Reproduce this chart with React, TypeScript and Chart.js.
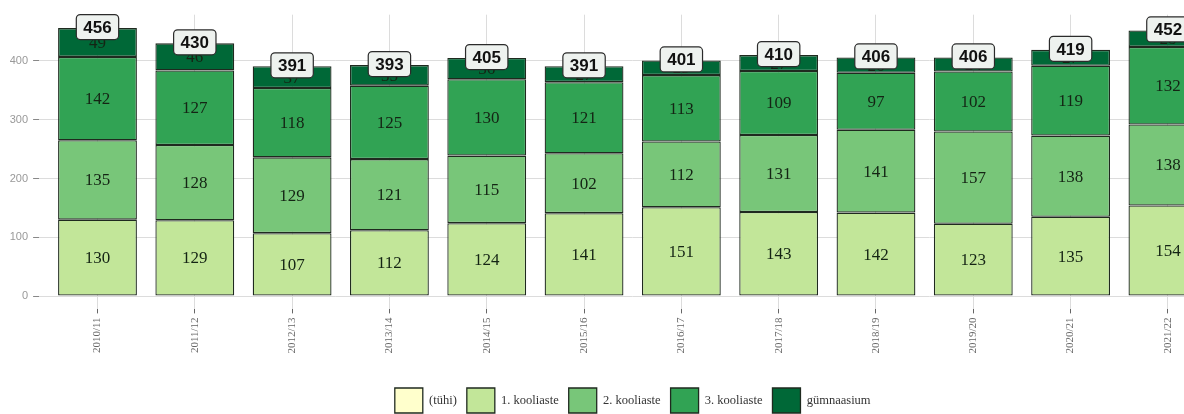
import React, { useEffect, useRef } from 'react';
import { Chart, registerables } from 'chart.js';

Chart.register(...registerables);

const categories = ['2010/11', '2011/12', '2012/13', '2013/14', '2014/15', '2015/16', '2016/17', '2017/18', '2018/19', '2019/20', '2020/21', '2021/22'];
const tyhi: (number | null)[] = [];
const kooliaste1 = [130, 129, 107, 112, 124, 141, 151, 143, 142, 123, 135, 154];
const kooliaste2 = [135, 128, 129, 121, 115, 102, 112, 131, 141, 157, 138, 138];
const kooliaste3 = [142, 127, 118, 125, 130, 121, 113, 109, 97, 102, 119, 132];
const gymnaasium = [49, 46, 37, 35, 36, 27, 25, 27, 26, 24, 27, 28];
const yTicks = [0, 100, 200, 300, 400];

const seriesNames = ['(tühi)', '1. kooliaste', '2. kooliaste', '3. kooliaste', 'gümnaasium'];
const seriesColors = ['#ffffcc', '#c2e699', '#78c679', '#31a354', '#006837'];

const segmentSeries = [kooliaste1, kooliaste2, kooliaste3, gymnaasium];
const totals = categories.map((_, i) => segmentSeries.reduce((s, arr) => s + arr[i], 0));
const maxTotal = Math.max(...totals);
const yMax = maxTotal * 1.05;
const yMin = -maxTotal * 0.05;

const labelsPlugin = {
  id: 'segLabels',
  afterDatasetsDraw(chart: any) {
    const ctx = chart.ctx as CanvasRenderingContext2D;
    ctx.save();
    ctx.textAlign = 'center';
    ctx.textBaseline = 'middle';
    ctx.font = '17px "Liberation Serif", serif';
    ctx.fillStyle = '#142414';
    segmentSeries.forEach((series, k) => {
      const meta = chart.getDatasetMeta(k + 1);
      meta.data.forEach((bar: any, j: number) => {
        const p = bar.getProps(['x', 'y', 'base'], true);
        ctx.fillText(String(series[j]), p.x, (p.y + p.base) / 2 + 1);
      });
    });
    const yScale = chart.scales.y;
    const meta = chart.getDatasetMeta(1);
    ctx.font = 'bold 17px "Liberation Sans", Arial, sans-serif';
    totals.forEach((t, j) => {
      const x = meta.data[j].x;
      const y = yScale.getPixelForValue(t);
      const txt = String(t);
      const w = ctx.measureText(txt).width + 14;
      const h = 25;
      ctx.beginPath();
      (ctx as any).roundRect(x - w / 2, y - h / 2 - 1, w, h, 4);
      ctx.fillStyle = '#eef2ef';
      ctx.fill();
      ctx.lineWidth = 1.2;
      ctx.strokeStyle = '#2b2b2b';
      ctx.stroke();
      ctx.fillStyle = '#111111';
      ctx.fillText(txt, x, y);
    });
    ctx.restore();
  },
};

export default function App() {
  const ref = useRef<HTMLCanvasElement>(null);

  useEffect(() => {
    if (!ref.current) return;
    const allData = [tyhi, ...segmentSeries];
    const chart = new Chart(ref.current, {
      type: 'bar',
      data: {
        datasets: allData.map((arr, k) => ({
          label: seriesNames[k],
          data: arr.map((v, i) => ({ x: i, y: v })),
          backgroundColor: seriesColors[k],
          borderColor: '#1f2a1f',
          borderWidth: 1.3,
          borderSkipped: false,
          categoryPercentage: 1,
          barPercentage: 0.81,
        })),
      },
      options: {
        animation: false,
        responsive: false,
        layout: { padding: { top: 14.7, right: 1.7, left: 0, bottom: 0 } },
        plugins: {
          legend: {
            position: 'bottom',
            fullSize: false,
            labels: {
              boxWidth: 28,
              boxHeight: 25,
              padding: 10,
              color: '#333333',
              font: { family: '"Liberation Serif", serif', size: 12.5 },
            },
          },
          tooltip: { enabled: false },
        },
        scales: {
          x: {
            type: 'linear',
            min: -0.6,
            max: categories.length - 0.4,
            stacked: true,
            offset: false,
            afterBuildTicks: (s: any) => {
              s.ticks = categories.map((_, i) => ({ value: i }));
            },
            afterFit: (s: any) => {
              s.height = 68.6;
            },
            grid: { offset: false, color: '#dcdcdc', tickColor: '#666666', tickLength: 4, lineWidth: 1 },
            border: { display: false },
            ticks: {
              autoSkip: false,
              minRotation: 90,
              maxRotation: 90,
              padding: 4,
              color: '#666666',
              font: { family: '"Liberation Serif", serif', size: 11 },
              callback: (v: any) => categories[v as number] ?? '',
            },
          },
          y: {
            stacked: true,
            min: yMin,
            max: yMax,
            afterBuildTicks: (s: any) => {
              s.ticks = yTicks.map((v) => ({ value: v }));
            },
            afterFit: (s: any) => {
              s.width = 39.1;
            },
            grid: { color: '#dcdcdc', tickColor: '#888888', tickLength: 6, lineWidth: 1 },
            border: { display: false },
            ticks: {
              padding: 5,
              color: '#999999',
              font: { family: '"Liberation Sans", Arial, sans-serif', size: 11 },
            },
          },
        },
      },
      plugins: [labelsPlugin],
    } as any);
    return () => chart.destroy();
  }, []);

  return (
    <div style={{ position: 'fixed', left: 0, top: 0, width: 1184, height: 414, overflow: 'hidden', background: '#ffffff' }}>
      <canvas ref={ref} width={1228} height={423} style={{ display: 'block' }} />
    </div>
  );
}
